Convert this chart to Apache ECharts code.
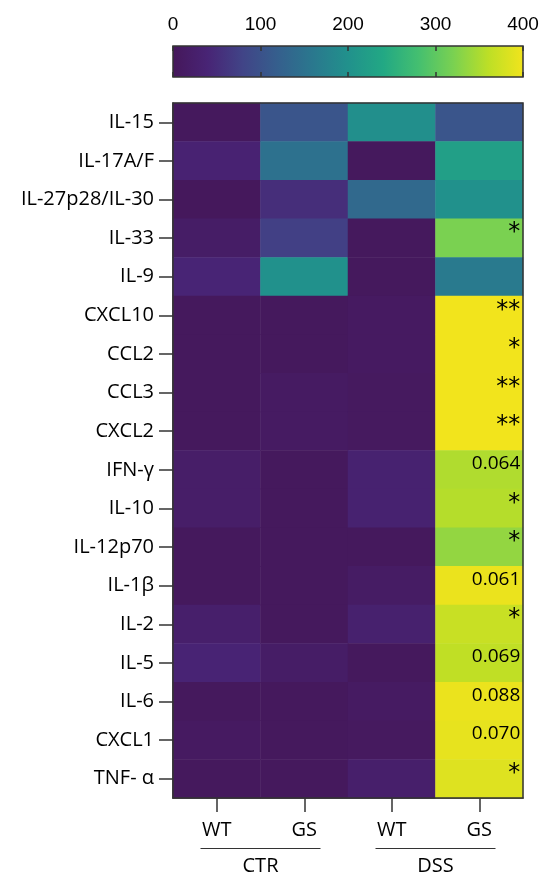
<!DOCTYPE html>
<html><head><meta charset="utf-8">
<script src="https://cdn.jsdelivr.net/npm/echarts@6/dist/echarts.min.js"></script>
<style>html,body{margin:0;padding:0;background:#fff}#c{width:542px;height:877px}</style>
</head><body><div id="c"></div>
<script>
const rows = ['IL-15','IL-17A/F','IL-27p28/IL-30','IL-33','IL-9','CXCL10','CCL2','CCL3','CXCL2','IFN-γ','IL-10','IL-12p70','IL-1β','IL-2','IL-5','IL-6','CXCL1','TNF- α'];
const cols = ['WT','GS','WT','GS'];
const groups = ['CTR','DSS'];
const wtCtr = [5,35,3,18,40,5,5,5,5,20,20,5,5,25,38,5,10,5];
const gsCtr = [105,148,52,75,200,5,5,12,12,5,5,5,5,5,18,5,5,5];
const wtDss = [197,5,136,5,5,10,10,8,8,33,33,5,15,30,5,12,8,25];
const gsDss = [105,225,200,320,163,400,400,400,400,352,355,335,395,368,362,395,392,385];
const annot = ['','','','*','','**','*','**','**','0.064','*','*','0.061','*','0.069','0.088','0.070','*'];
const scaleTicks = [0,100,200,300,400];
const viridis = ['#45175a','#482475','#414487','#355f8d','#2a788e','#21918c','#22a884','#44bf70','#7ad151','#bddf26','#f2e41c'];

const colVals = [wtCtr, gsCtr, wtDss, gsDss];
const data = [];
colVals.forEach((arr, j) => arr.forEach((v, i) => data.push([j, i, v])));

const chart = echarts.init(document.getElementById('c'));
const FONT = 'Open Sans';
const TXT = '#000';
const L = 173, W = 350, T = 103, H = 695;
chart.setOption({
  animation: false,
  grid: [
    {left: L, top: T, width: W, height: H, show: true, z: 5, borderColor: '#333', borderWidth: 1.5, backgroundColor: 'transparent'},
    {left: L, top: 46, width: W, height: 31, show: true, z: 0, borderColor: '#333', borderWidth: 1.5,
      backgroundColor: {type: 'linear', x: 0, y: 0, x2: 1, y2: 0,
        colorStops: viridis.map((c, k) => ({offset: k / (viridis.length - 1), color: c}))}},
    {left: L, top: T, width: W, height: H, show: false}
  ],
  xAxis: [
    {gridIndex: 0, type: 'category', data: cols, position: 'bottom',
      axisLine: {show: true, lineStyle: {color: '#333', width: 1.5}},
      axisTick: {show: true, alignWithLabel: true, length: 14, lineStyle: {color: '#333', width: 1.5}},
      axisLabel: {margin: 22, color: TXT, fontFamily: FONT, fontSize: 20}},
    {gridIndex: 1, type: 'value', min: scaleTicks[0], max: scaleTicks[scaleTicks.length - 1], interval: 100, position: 'top', z: 3,
      axisLine: {show: false}, splitLine: {show: false},
      axisTick: {show: true, inside: true, length: 5, lineStyle: {color: '#333', width: 1.5}},
      axisLabel: {margin: 12, color: TXT, fontFamily: 'Liberation Sans', fontSize: 19}},
    {gridIndex: 1, type: 'value', min: scaleTicks[0], max: scaleTicks[scaleTicks.length - 1], interval: 100, position: 'bottom', z: 3,
      axisLine: {show: false}, splitLine: {show: false},
      axisTick: {show: true, inside: true, length: 5, lineStyle: {color: '#333', width: 1.5}},
      axisLabel: {show: false}},
    {gridIndex: 2, type: 'category', data: groups, position: 'bottom',
      axisLine: {show: false}, axisTick: {show: false},
      axisLabel: {margin: 50, color: TXT, fontFamily: FONT,
        formatter: v => '{line| }\n{name|' + v + '}',
        rich: {line: {width: 120, height: 1, lineHeight: 1, fontSize: 1, backgroundColor: '#333'},
               name: {fontSize: 20, lineHeight: 24, padding: [11, 0, 0, 0], color: TXT, fontFamily: FONT}}}}
  ],
  yAxis: [
    {gridIndex: 0, type: 'category', data: rows, inverse: true,
      axisLine: {show: true, lineStyle: {color: '#333', width: 1.5}},
      axisTick: {show: true, alignWithLabel: true, length: 14, lineStyle: {color: '#333', width: 1.5}},
      axisLabel: {margin: 19, color: TXT, fontFamily: FONT, fontSize: 20}},
    {gridIndex: 1, type: 'category', data: [''], show: false},
    {gridIndex: 2, type: 'category', data: [''], show: false}
  ],
  visualMap: {show: false, min: 0, max: 400, dimension: 2, seriesIndex: 0, inRange: {color: viridis}},
  series: [{
    type: 'heatmap', xAxisIndex: 0, yAxisIndex: 0, data: data,
    itemStyle: {borderWidth: 0},
    label: {show: true, position: 'insideTopRight', distance: 3,
      formatter: p => {
        if (p.data[0] !== 3) return '';
        const a = annot[p.data[1]];
        if (!a) return '';
        return a.indexOf('*') >= 0 ? '{st|' + a + '}' : '{num|' + a + '}';
      },
      rich: {st: {fontSize: 24, fontFamily: 'DejaVu Sans', color: TXT, lineHeight: 23},
             num: {fontSize: 19, fontFamily: FONT, color: TXT, lineHeight: 21}}},
    emphasis: {disabled: true}
  }]
});
</script></body></html>
